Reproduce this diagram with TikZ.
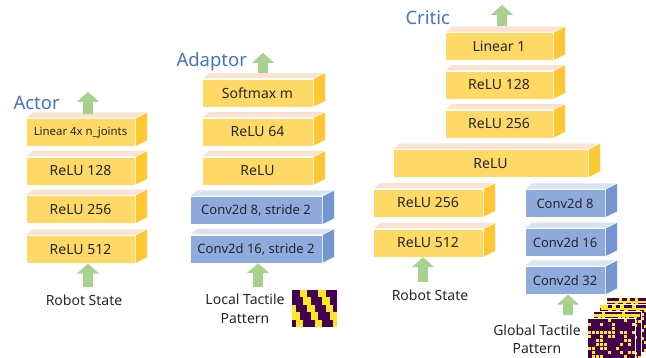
\documentclass[tikz,border=0pt]{standalone}
\usepackage{fontspec}
\setmainfont{Noto Sans}
\usetikzlibrary{arrows.meta,calc}

\definecolor{yfront}{HTML}{FFD966}
\definecolor{yside}{HTML}{FFC832}
\definecolor{ytop}{HTML}{FBE3D4}
\definecolor{bfront}{HTML}{8FAADC}
\definecolor{bside}{HTML}{7495D2}
\definecolor{btop}{HTML}{DAE3F3}
\definecolor{arrowgreen}{HTML}{A9D18E}
\definecolor{titleblue}{HTML}{4472C4}
\definecolor{tacpurple}{HTML}{440154}
\definecolor{tacyellow}{HTML}{FDE725}

\tikzset{
    ylayer/.style={draw=white, line width=0.5pt, fill=yfront, inner sep=0pt,
        minimum height=28pt, text=black!85, font=\fontsize{14}{16}\selectfont},
    blayer/.style={ylayer, fill=bfront, font=\fontsize{13}{15}\selectfont},
    nettitle/.style={anchor=west, text=titleblue, font=\fontsize{18.5}{20}\selectfont},
    inlabel/.style={align=center, text=black!85, font=\fontsize{14}{19}\selectfont},
    garrow/.style={draw=arrowgreen, line width=10pt, -{Triangle[width=22pt,length=10pt]}},
}

\begin{document}
\begin{tikzpicture}[x=1pt, y=-1pt]
        \useasboundingbox (0,0) rectangle (646,358);

        % Actor
        \draw (10, 103) node[nettitle] (tactor) {Actor};
        \draw (80.5, 132.5) node[ylayer, minimum width=109pt, font=\fontsize{11.4}{13}\selectfont] (alin) {Linear 4x n\_joints};
        \draw (80.5, 171) node[ylayer, minimum width=109pt] (a128) {ReLU 128};
        \draw (80.5, 209.5) node[ylayer, minimum width=109pt] (a256) {ReLU 256};
        \draw (80.5, 249.5) node[ylayer, minimum width=109pt] (a512) {ReLU 512};
        \draw (84, 300) node[inlabel] (ars) {Robot State};
        \coordinate (aout) at (88, 92);
        \coordinate (ain) at (88, 287);

        % Adaptor
        \draw (173, 62) node[nettitle] (tadapt) {Adaptor};
        \draw (257.5, 93) node[ylayer, minimum width=111pt] (dsoft) {Softmax m};
        \draw (257.5, 132) node[ylayer, minimum width=111pt] (d64) {ReLU 64};
        \draw (257.5, 171) node[ylayer, minimum width=111pt] (drelu) {ReLU};
        \draw (256, 210.5) node[blayer, minimum width=132pt] (dc8) {Conv2d 8, stride 2};
        \draw (256, 249) node[blayer, minimum width=132pt] (dc16) {Conv2d 16, stride 2};
        \draw (245, 308.5) node[inlabel] (dlt) {Local Tactile\\Pattern};
        \coordinate (dout) at (263, 53);
        \coordinate (din) at (258, 287);

        % Critic
        \draw (402, 18) node[nettitle] (tcritic) {Critic};
        \draw (499, 46.5) node[ylayer, minimum width=108pt] (clin) {Linear 1};
        \draw (499, 85) node[ylayer, minimum width=108pt] (c128) {ReLU 128};
        \draw (499, 124) node[ylayer, minimum width=108pt] (c256) {ReLU 256};
        \draw (490.5, 163.5) node[ylayer, minimum width=195pt] (crelu) {ReLU};
        \draw (428, 203) node[ylayer, minimum width=110pt] (cr256) {ReLU 256};
        \draw (428, 243) node[ylayer, minimum width=110pt] (cr512) {ReLU 512};
        \draw (565, 203.5) node[blayer, minimum width=80pt] (cc8) {Conv2d 8};
        \draw (565, 242.5) node[blayer, minimum width=80pt] (cc16) {Conv2d 16};
        \draw (565, 280.5) node[blayer, minimum width=80pt] (cc32) {Conv2d 32};
        \draw (430, 295) node[inlabel] (crs) {Robot State};
        \draw (537, 339) node[inlabel, font=\fontsize{14}{18}\selectfont] (cgt) {Global Tactile\\Pattern};
        \coordinate (cout) at (502, 5);
        \coordinate (cin) at (423, 282);
        \coordinate (cgin) at (568, 315);

        % top and side faces
        \foreach \n in {alin, a128, a256, a512, dsoft, d64, drelu, clin, c128, c256, crelu, cr256, cr512} {
            \filldraw[fill=ytop, draw=white, line width=0.5pt] (\n.north west) -- ++(7,-6) -- ($(\n.north east)+(12,-6)$) -- (\n.north east) -- cycle;
            \filldraw[fill=yside, draw=white, line width=0.5pt] (\n.north east) -- ++(12,-6) -- ($(\n.south east)+(12,-6)$) -- (\n.south east) -- cycle;
        }
        \foreach \n in {dc8, dc16, cc8, cc16, cc32} {
            \filldraw[fill=btop, draw=white, line width=0.5pt] (\n.north west) -- ++(7,-6) -- ($(\n.north east)+(12,-6)$) -- (\n.north east) -- cycle;
            \filldraw[fill=bside, draw=white, line width=0.5pt] (\n.north east) -- ++(12,-6) -- ($(\n.south east)+(12,-6)$) -- (\n.south east) -- cycle;
        }

        % arrows
        \draw[garrow, shorten <=4pt] (alin.north -| aout) -- (aout);
        \draw[garrow] (ain) -- (ain |- a512.south);
        \draw[garrow, shorten <=6pt] (dsoft.north -| dout) -- (dout);
        \draw[garrow] (din) -- (din |- dc16.south);
        \draw[garrow, shorten <=6pt] (clin.north -| cout) -- (cout);
        \draw[garrow] (cin) -- (cin |- cr512.south);
        \draw[garrow] (cgin) -- (cgin |- cc32.south);

        % local tactile pattern
        \fill[tacpurple] (292, 290) rectangle (337, 327);
        \foreach \i in {0,...,11}
            \foreach \j in {0,...,9} {
                \pgfmathtruncatemacro\k{mod(\i - floor(\j/2) + 8, 5)}
                \ifnum\k<2
                    \fill[tacyellow] (292 + 3.75*\i, 290 + 3.7*\j) rectangle ++(3.75, 3.7);
                \fi
            }

        % global tactile patterns
        \pgfmathsetseed{11}
        \foreach \l in {0,...,3} {
            \filldraw[fill=tacpurple, draw=white, line width=1pt] (606 - 6.3*\l, 298 + 6.7*\l) rectangle ++(48, 48);
            \ifnum\l<3
                \fill[tacyellow] (607 - 6.3*\l, 301 + 6.7*\l) rectangle ++(46, 2.5);
            \fi
            \foreach \i in {0,...,11}
                \foreach \j in {0,...,11} {
                    \pgfmathtruncatemacro\r{100*rnd}
                    \ifnum\r<33
                        \fill[tacyellow] (606.5 - 6.3*\l + 4*\i, 298.5 + 6.7*\l + 4*\j) rectangle ++(3.5, 3);
                    \fi
                }
        }
    \end{tikzpicture}
\end{document}
